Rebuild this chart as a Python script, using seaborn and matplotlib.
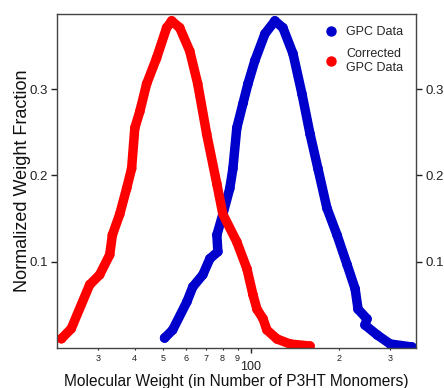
import matplotlib
matplotlib.use("Agg")
import matplotlib.pyplot as plt
import matplotlib.ticker as mticker
from matplotlib.lines import Line2D
import seaborn as sns
import pandas as pd

# ---- data ----
gpc_mw = [50.7, 54.0, 60.4, 63.3, 68.5, 72.4, 77.1, 76.5, 80.2, 84.7, 86.8, 89.5,
          93.9, 97.7, 103.2, 111.7, 120.8, 128.7, 139.3, 149.6, 159.3, 169.5,
          182.0, 197.0, 213.3, 227.2, 232.5, 249.5, 245.5, 270.5, 299.5, 355.6]
gpc_wf = [0.0116, 0.0209, 0.0535, 0.0709, 0.0849, 0.1035, 0.1116, 0.131, 0.155,
          0.185, 0.208, 0.255, 0.283, 0.306, 0.333, 0.364, 0.379, 0.371, 0.341,
          0.294, 0.248, 0.208, 0.162, 0.131, 0.0965, 0.0686, 0.045, 0.0337,
          0.0267, 0.0151, 0.0047, 0.0012]

corr_mw = [22.5, 24.3, 28.1, 30.4, 32.9, 33.6, 35.6, 37.6, 39.1, 40.1, 41.7, 44.0,
           47.6, 51.5, 53.6, 57.1, 61.8, 65.8, 70.6, 76.5, 80.2, 89.5, 96.9,
           101.6, 104.9, 110.0, 113.4, 122.8, 136.1, 159.3]
corr_wf = [0.0108, 0.0224, 0.0733, 0.0849, 0.108, 0.131, 0.155, 0.185, 0.208,
           0.255, 0.274, 0.306, 0.336, 0.371, 0.379, 0.371, 0.344, 0.306, 0.248,
           0.190, 0.155, 0.123, 0.092, 0.062, 0.045, 0.034, 0.021, 0.0105,
           0.0047, 0.0023]

series_names = ["GPC Data", "Corrected\nGPC Data"]
series_colors = ["#0000CC", "#FF0000"]
y_ticks = [0.1, 0.2, 0.3]
x_minor_ticks = [30, 40, 50, 60, 70, 80, 90, 200, 300]
x_minor_labels = ["3", "4", "5", "6", "7", "8", "9", "2", "3"]
x_major_ticks = [100]
x_major_labels = ["100"]

df = pd.concat([
    pd.DataFrame({"mw": gpc_mw, "wf": gpc_wf, "series": series_names[0]}),
    pd.DataFrame({"mw": corr_mw, "wf": corr_wf, "series": series_names[1]}),
], ignore_index=True)

sns.set_theme(style="white")
plt.rcParams["font.family"] = ["Liberation Sans", "DejaVu Sans"]

fig = plt.figure(figsize=(4.44, 3.88), dpi=100)
ax = fig.add_axes([0.128, 0.103, 0.809, 0.861])

palette = dict(zip(series_names, series_colors))
sns.lineplot(data=df, x="mw", y="wf", hue="series", palette=palette, sort=False,
             estimator=None, units="series", linewidth=6.8, legend=False, ax=ax,
             solid_capstyle="round", solid_joinstyle="round")
sns.scatterplot(data=df, x="mw", y="wf", hue="series", palette=palette, s=48,
                linewidth=0, legend=False, ax=ax)

ax.set_xscale("log")
ax.set_xlim(21.7, 367)
ax.set_ylim(0.0, 0.387)

ax.xaxis.set_major_locator(mticker.FixedLocator(x_major_ticks))
ax.xaxis.set_major_formatter(mticker.FixedFormatter(x_major_labels))
ax.xaxis.set_minor_locator(mticker.FixedLocator(x_minor_ticks))
ax.xaxis.set_minor_formatter(mticker.FixedFormatter(x_minor_labels))
ax.tick_params(axis="x", which="major", direction="out", length=3.5, width=1,
               labelsize=9, pad=6, colors="#222222", bottom=True, top=False)
ax.tick_params(axis="x", which="minor", direction="out", length=1.2, width=0.8,
               labelsize=6.5, pad=3, colors="#222222", bottom=True, top=False)

ax.set_yticks(y_ticks)
ax.yaxis.set_major_formatter(mticker.FormatStrFormatter("%.1f"))
ax.tick_params(axis="y", which="major", direction="out", length=4.5, width=1,
               labelsize=9.5, pad=2, colors="#222222", left=True, right=True,
               labelleft=True, labelright=True)

for sp in ax.spines.values():
    sp.set_color("#444444")
    sp.set_linewidth(1.0)

ax.set_xlabel("Molecular Weight (in Number of P3HT Monomers)", fontsize=11.2,
              color="#111111")
ax.xaxis.set_label_coords(0.5, -0.078)
ax.set_ylabel("Normalized Weight Fraction", fontsize=13, color="#111111", labelpad=-1)

handles = [Line2D([0], [0], marker="o", linestyle="none", markersize=6.5,
                  markerfacecolor=c, markeredgecolor=c) for c in series_colors]
leg = ax.legend(handles, series_names, loc="upper right", frameon=False, fontsize=9,
                handletextpad=0.6, labelspacing=0.75, borderaxespad=0.6, handlelength=1.2)
for t in leg.get_texts():
    t.set_multialignment("left")

fig.savefig("out.png", dpi=100)
